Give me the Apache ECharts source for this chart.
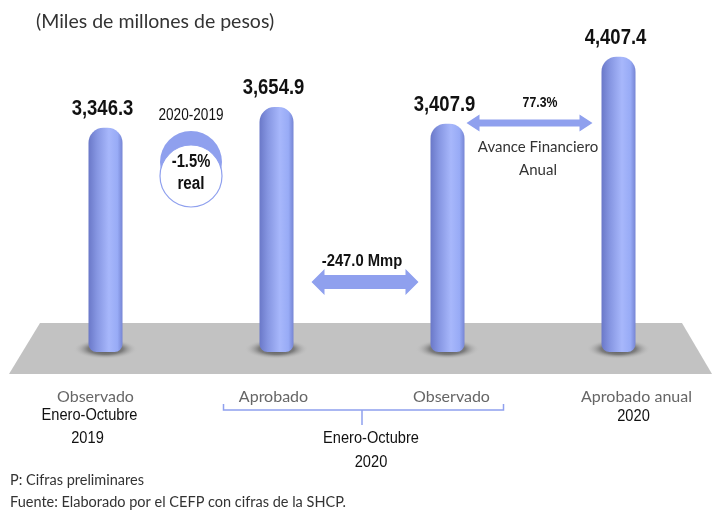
<!DOCTYPE html>
<html>
<head>
<meta charset="utf-8">
<script src="https://cdn.jsdelivr.net/npm/echarts@6/dist/echarts.min.js"></script>
<style>
  html, body { margin: 0; padding: 0; background: #fff; }
  #main { width: 718px; height: 512px; }
</style>
</head>
<body>
<div id="main"></div>
<script>
// datos
var categories = ['Observado', 'Aprobado', 'Observado', 'Aprobado anual'];
var values = [3346.3, 3654.9, 3407.9, 4407.4];
var subLines = [['Enero-Octubre', '2019'], [], [], ['2020']];
var unitTitle = '(Miles de millones de pesos)';
var diffLabel = '-247.0 Mmp';
var avanceLabel = '77.3%';
var realLabel = ['2020-2019', '-1.5%', 'real'];
var groupLabel = ['Enero-Octubre', '2020'];
var notes = ['P: Cifras preliminares', 'Fuente: Elaborado por el CEFP con cifras de la SHCP.'];

var narrow = "'Liberation Sans', Arial, sans-serif";
var gothic = "Lato, 'Noto Sans', sans-serif";
var blue = '#8fa0ee';

var myChart = echarts.init(document.getElementById('main'));

var cylinder = new echarts.graphic.LinearGradient(0, 0, 1, 0, [
    {offset: 0, color: '#6a78c8'},
    {offset: 0.25, color: '#8696e2'},
    {offset: 0.6, color: '#a7b7fb'},
    {offset: 0.85, color: '#98abf6'},
    {offset: 1, color: '#7685d4'}
]);

var option = {
    title: {
        text: unitTitle,
        left: 36,
        top: 12,
        padding: 0,
        textStyle: {fontFamily: gothic, fontSize: 19.5, fontWeight: 'normal', color: '#333'}
    },
    grid: {left: 20, right: 14, top: 17, bottom: 160},
    xAxis: {
        type: 'category',
        data: categories,
        axisLine: {show: false},
        axisTick: {show: false},
        axisLabel: {
            margin: 37,
            interval: 0,
            formatter: function (v, i) {
                return '{g' + i + '|' + v + '}';
            },
            rich: {
                g0: {fontFamily: gothic, fontSize: 16, color: '#666', padding: [0, 20, 0, 0]},
                g1: {fontFamily: gothic, fontSize: 16, color: '#666', padding: [0, 6, 0, 0]},
                g2: {fontFamily: gothic, fontSize: 16, color: '#666', padding: [0, 0, 0, 8]},
                g3: {fontFamily: gothic, fontSize: 16, color: '#666', padding: [0, 0, 0, 36]}
            }
        }
    },
    yAxis: {type: 'value', min: 0, max: 5000, show: false},
    series: [
        {
            type: 'scatter',
            z: 1,
            silent: true,
            symbol: 'circle',
            symbolSize: [64, 20],
            symbolOffset: [0, -3],
            itemStyle: {
                color: new echarts.graphic.RadialGradient(0.5, 0.5, 0.5, [
                    {offset: 0, color: 'rgba(30,30,30,0.95)'},
                    {offset: 0.55, color: 'rgba(70,70,70,0.7)'},
                    {offset: 1, color: 'rgba(192,192,192,0)'}
                ])
            },
            data: values.map(function () { return 0; })
        },
        {
            type: 'bar',
            z: 3,
            barWidth: 34,
            itemStyle: {color: cylinder, borderRadius: [15, 15, 8, 8]},
            data: values
        }
    ]
};
myChart.setOption(option);

// texto angosto (simula Arial Narrow)
function nText(x, y, text, size, bold, sx) {
    return {type: 'text', x: x, y: y, scaleX: sx, z: 10,
        style: {text: text, fontFamily: narrow, fontSize: size, fontWeight: bold ? 'bold' : 'normal',
            fill: '#111', align: 'center', verticalAlign: 'middle'}};
}
function gText(x, y, text, size, align) {
    return {type: 'text', x: x, y: y, z: 10,
        style: {text: text, fontFamily: gothic, fontSize: size, fill: '#333', align: align || 'center', verticalAlign: 'middle'}};
}
// flecha doble
function arrowPoints(x1, x2, y, body, head, headLen) {
    return [
        [x1, y], [x1 + headLen, y - head], [x1 + headLen, y - body], [x2 - headLen, y - body],
        [x2 - headLen, y - head], [x2, y], [x2 - headLen, y + head], [x2 - headLen, y + body],
        [x1 + headLen, y + body], [x1 + headLen, y + head]
    ];
}
function fmt(v) {
    return v.toLocaleString('en-US', {minimumFractionDigits: 1, maximumFractionDigits: 1});
}

var px = categories.map(function (c, i) { return myChart.convertToPixel({xAxisIndex: 0}, i); });
var base = myChart.convertToPixel({yAxisIndex: 0}, 0);
var half = 17;
var floorTop = base - 29, floorBot = base + 22;
var cx = (px[0] + px[1]) / 2;
var mid = (px[1] + px[2]) / 2;

var graphics = [
    // piso
    {type: 'polygon', z: 0, silent: true,
        shape: {points: [[40, floorTop], [682, floorTop], [712, floorBot], [9, floorBot]]},
        style: {fill: '#c2c2c2'}},
    // circulo real
    {type: 'circle', shape: {cx: cx, cy: 162, r: 31}, style: {fill: blue}},
    {type: 'circle', shape: {cx: cx, cy: 176, r: 31}, style: {fill: '#fff', stroke: blue, lineWidth: 1.2}},
    nText(cx, 116, realLabel[0], 16, false, 0.85),
    nText(cx, 162, realLabel[1], 18, true, 0.82),
    nText(cx, 184, realLabel[2], 18, true, 0.85),
    // diferencia
    {type: 'polygon', shape: {points: arrowPoints(px[1] + half + 18, px[2] - half - 12, 282, 7, 13, 13)}, style: {fill: blue}},
    nText(mid, 261, diffLabel, 17, true, 0.87),
    // avance
    {type: 'polygon', shape: {points: arrowPoints(px[2] + half + 2, px[3] - half - 9, 123, 3.5, 8.5, 13)}, style: {fill: blue}},
    nText(540, 103, avanceLabel, 15, true, 0.82),
    gText(538, 147, 'Avance Financiero', 15),
    gText(538, 170, 'Anual', 15),
    // subtitulos de categorias
    nText(px[0] - 16, 415, subLines[0][0], 17, false, 0.86),
    nText(px[0] - 18, 438, subLines[0][1], 17, false, 0.86),
    nText(px[3] + 15, 416, subLines[3][0], 17, false, 0.86),
    // llave Enero-Octubre 2020
    {type: 'polyline', shape: {points: [[px[1] - 53, 404], [px[1] - 53, 410], [px[2] + 56, 410], [px[2] + 56, 404]]},
        style: {stroke: blue, lineWidth: 1.5, fill: null}},
    {type: 'line', shape: {x1: mid, y1: 410, x2: mid, y2: 425},
        style: {stroke: blue, lineWidth: 1.5}},
    nText(mid + 9, 438, groupLabel[0], 17, false, 0.86),
    nText(mid + 9, 462, groupLabel[1], 17, false, 0.86),
    // notas
    gText(10, 480, notes[0], 14.5, 'left'),
    gText(10, 502, notes[1], 14.5, 'left')
];
// etiquetas de valor
values.forEach(function (v, i) {
    var p = myChart.convertToPixel({xAxisIndex: 0, yAxisIndex: 0}, [i, v]);
    graphics.push(nText(p[0] - 3, p[1] - 19, fmt(v), 22, true, 0.84));
});
myChart.setOption({graphic: graphics});
</script>
</body>
</html>
